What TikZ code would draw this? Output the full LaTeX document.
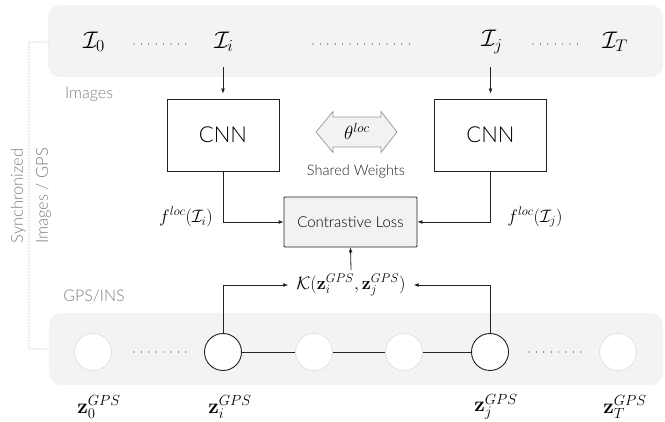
\RequirePackage{fix-cm}
\documentclass[tikz,border=0pt]{standalone}
\usepackage[no-math]{fontspec}
\setmainfont{Lato Light}
\usetikzlibrary{arrows.meta,calc}
\definecolor{band}{HTML}{F3F3F3}
\definecolor{lbl}{HTML}{7C7C7C}
\definecolor{ln}{HTML}{222222}
\definecolor{lossfill}{HTML}{F2F2F2}
\definecolor{ghost}{HTML}{DDDDDD}
\tikzset{
  arr/.style={draw=ln, line width=0.8pt, -{Latex[length=5pt,width=4pt]}},
  conn/.style={draw=ln, line width=0.8pt},
  cnnbox/.style={draw=ln, line width=0.8pt, minimum width=112pt, minimum height=72pt, inner sep=0pt, font=\fontsize{22}{24}\selectfont},
  lossbox/.style={draw=ln, fill=lossfill, line width=0.8pt, minimum width=133pt, minimum height=50pt, inner sep=0pt, rounded corners=1pt, font=\fontsize{15}{17}\selectfont},
  imgnode/.style={font=\fontsize{24}{26}\selectfont, inner sep=2pt},
  gpsnode/.style={circle, minimum size=37pt, inner sep=0pt, fill=white},
  ghostc/.style={gpsnode, draw=ghost, line width=0.6pt},
  selc/.style={gpsnode, draw=ln, line width=0.9pt},
  zlbl/.style={font=\fontsize{21}{22}\selectfont, inner sep=0pt},
  graylbl/.style={text=lbl, font=\fontsize{16}{18}\selectfont, inner sep=0pt},
  dotrow/.style={draw=ln, line width=1.2pt, line cap=round, dash pattern=on 0pt off 7.4pt},
  bracket/.style={draw=ln, line width=0.9pt, line cap=round, dash pattern=on 0pt off 3pt},
  mathlbl/.style={font=\fontsize{18}{20}\selectfont, inner sep=0pt}
}
\begin{document}
\begin{tikzpicture}[x=1pt,y=-1pt]
\useasboundingbox (0,0) rectangle (665,422);
% bands
\fill[band, rounded corners=12pt] (48,5) rectangle (663,77);
\fill[band, rounded corners=12pt] (49,313) rectangle (663,385);
% bracket
\draw[bracket] (48,42) -- (29,42) -- (29,349) -- (48,349);
\node[graylbl, rotate=90, align=center, font=\fontsize{16.5}{25}\selectfont] (sync) at (31,196) {Synchronized\\Images / GPS};
% image row
\node[imgnode] (I0) at (94,42) {$\mathcal{I}_0$};
\node[imgnode] (Ii) at (224,42) {$\mathcal{I}_i$};
\node[imgnode] (Ij) at (492,42) {$\mathcal{I}_j$};
\node[imgnode] (IT) at (615,42) {$\mathcal{I}_T$};
\draw[dotrow] (134,44) -- (186,44);
\draw[dotrow] (313,44) -- (413,44);
\draw[dotrow] (533,44) -- (583,44);
\node[graylbl, anchor=west] (imgs) at (65,94) {Images};
% CNNs
\node[cnnbox] (cnnL) at (223,135) {CNN};
\node[cnnbox] (cnnR) at (490.5,135) {CNN};
\draw[arr, shorten >=5pt] (cnnL.north |- 0,67) coordinate (aL) -- (cnnL.north);
\draw[arr, shorten >=5pt] (cnnR.north |- 0,67) coordinate (aR) -- (cnnR.north);
% shared weights arrow
\draw[fill=lossfill, draw=lbl!80, line width=0.7pt] (316,132) -- (333,111.5) -- (333,117) -- (381,117) -- (381,111.5) -- (397,132) -- (381,152.5) -- (381,147) -- (333,147) -- (333,152.5) -- cycle;
\node[font=\fontsize{19}{20}\selectfont, inner sep=0pt] (theta) at (357,131) {$\theta^{loc}$};
\node[font=\fontsize{14.5}{16}\selectfont, text=ln, inner sep=0pt] (shared) at (356,172) {Shared Weights};
% loss
\node[lossbox] (loss) at (350.5,222) {Contrastive Loss};
\draw[arr] (cnnL.south) |- (loss.west);
\draw[arr] (cnnR.south) |- (loss.east);
\node[mathlbl] (fL) at (186,217) {$f^{loc}(\mathcal{I}_i)$};
\node[mathlbl] (fR) at (535,217) {$f^{loc}(\mathcal{I}_j)$};
% kernel
\node[mathlbl, inner xsep=8pt, inner ysep=4pt] (K) at (351,285) {$\mathcal{K}(\mathbf{z}_i^{GPS},\mathbf{z}_j^{GPS})$};
\draw[arr] (K.north) -- (loss.south);
% GPS row
\node[graylbl] (gpsins) at (94,296) {GPS/INS};
\node[ghostc] (c0) at (93,352) {};
\node[selc] (ci) at (223,352) {};
\node[ghostc] (c3) at (314,352) {};
\node[ghostc] (c4) at (404,352) {};
\node[selc] (cj) at (490,352) {};
\node[ghostc] (cT) at (618,352) {};
\draw[conn] (ci) -- (c3) (c3) -- (c4) (c4) -- (cj);
\draw[dotrow] (134,352) -- (186,352);
\draw[dotrow] (529,352) -- (581,352);
\draw[arr] (ci.north) |- (K.west);
\draw[arr] (cj.north) |- (K.east);
\node[zlbl] (z0) at (99,407) {$\mathbf{z}_0^{GPS}$};
\node[zlbl] (zi) at (230,407) {$\mathbf{z}_i^{GPS}$};
\node[zlbl] (zj) at (496,407) {$\mathbf{z}_j^{GPS}$};
\node[zlbl] (zT) at (625,407) {$\mathbf{z}_T^{GPS}$};
\end{tikzpicture}
\end{document}
